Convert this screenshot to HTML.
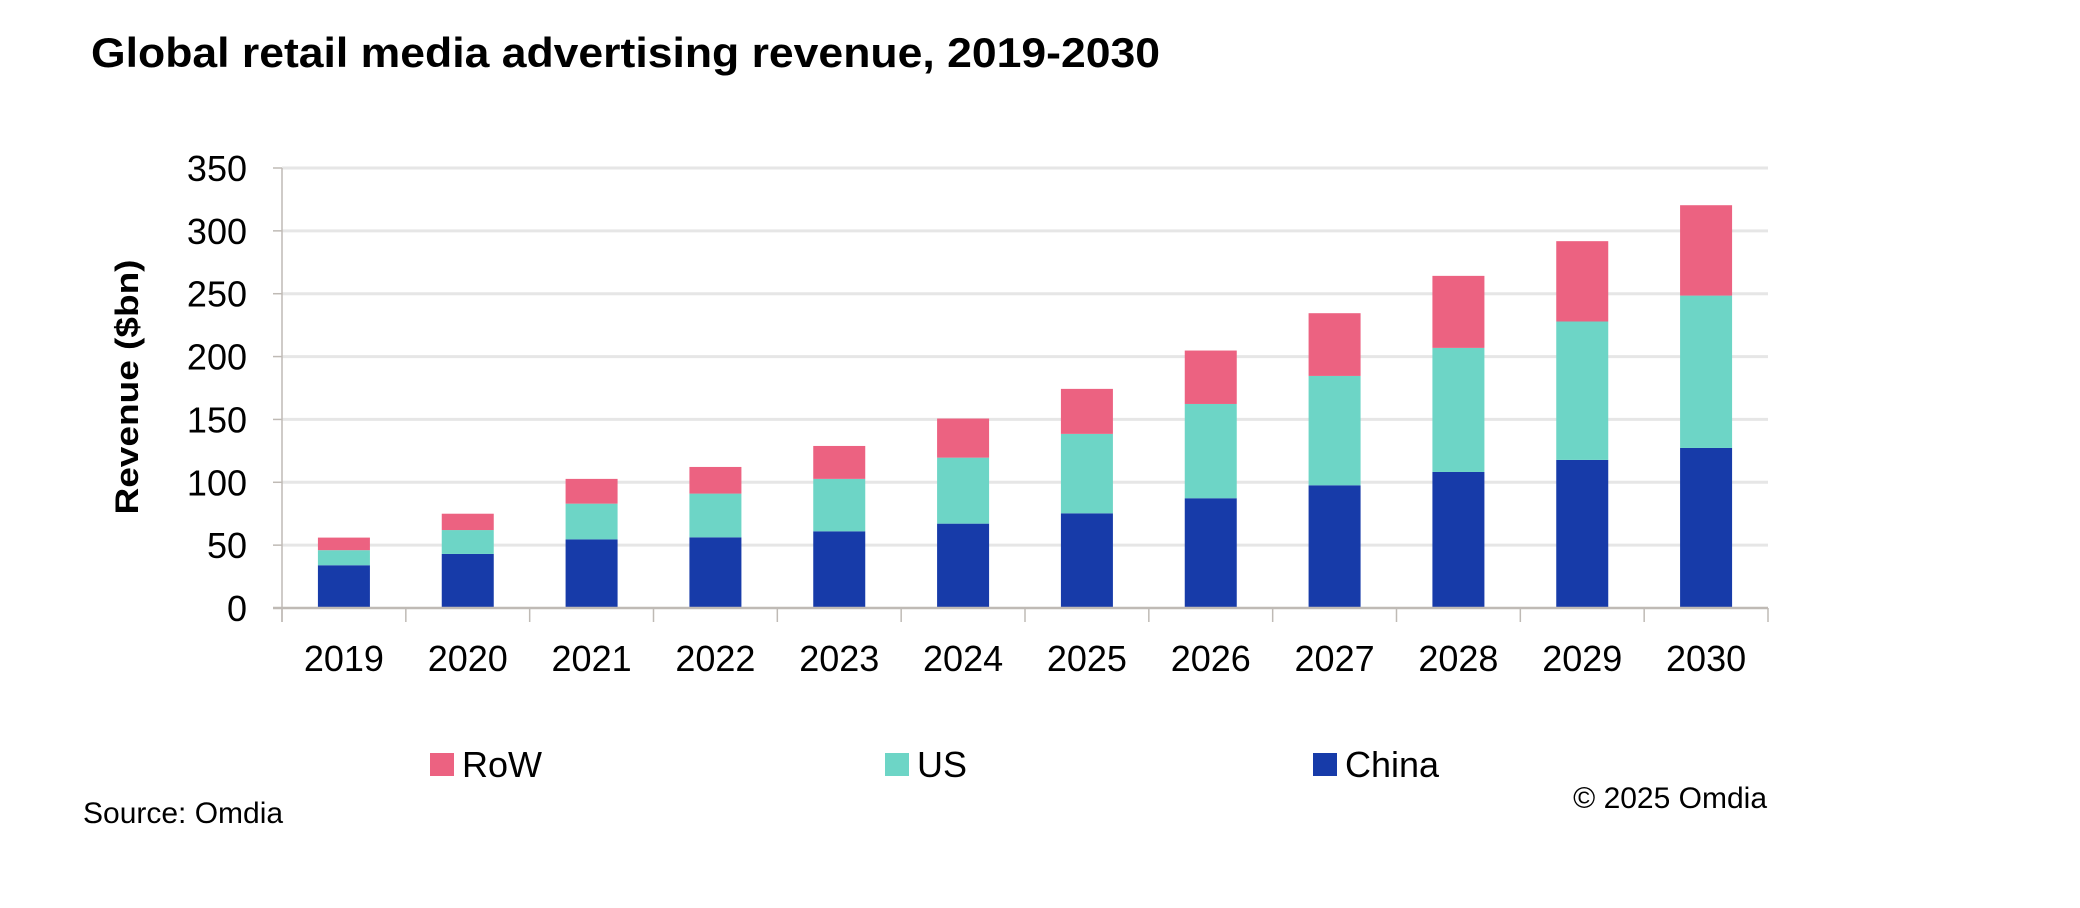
<!DOCTYPE html>
<html><head><meta charset="utf-8"><style>
html,body{margin:0;padding:0;background:#fff;}
svg{display:block;font-family:"Liberation Sans",sans-serif;}
</style></head><body>
<svg id="chart" width="2080" height="908" viewBox="0 0 2080 908">
<text x="91" y="67" font-size="42" font-weight="bold" textLength="1069" lengthAdjust="spacingAndGlyphs">Global retail media advertising revenue, 2019-2030</text>
<g id="grid"></g>
<g id="bars"></g>
<g id="axes"></g>
<text transform="translate(138,387) rotate(-90)" text-anchor="middle" font-size="32" font-weight="bold" textLength="255" lengthAdjust="spacingAndGlyphs">Revenue ($bn)</text>
<g>
<g><rect x="430" y="753" width="24" height="23" fill="#EC6281"/><text x="462" y="777" font-size="36">RoW</text></g>
<g><rect x="885" y="753" width="24" height="23" fill="#6DD5C6"/><text x="917" y="777" font-size="36">US</text></g>
<g><rect x="1313" y="753" width="24" height="23" fill="#173BA9"/><text x="1345" y="777" font-size="36">China</text></g>
</g>
<text x="83" y="823" font-size="30">Source: Omdia</text>
<text x="1767" y="808" font-size="30" text-anchor="end">© 2025 Omdia</text>
</svg>
<script>
const categories = ["2019","2020","2021","2022","2023","2024","2025","2026","2027","2028","2029","2030"];
const chinaValues = [34, 43, 54.6, 56.2, 61, 67.1, 75.3, 87.3, 97.6, 108.2, 117.8, 127.3];
const usValues = [12, 19, 28.4, 34.8, 41.7, 52.5, 63.2, 75, 87, 98.7, 110.1, 121.2];
const rowValues = [10, 13, 19.7, 21.2, 26.2, 31.1, 35.8, 42.5, 49.9, 57.3, 63.9, 71.9];
const yTicks = [0, 50, 100, 150, 200, 250, 300, 350];

const NS = "http://www.w3.org/2000/svg";
const X0 = 282, X1 = 1768, Y0 = 608, Y350 = 168;
const yScale = v => Y0 - (v / 350) * (Y0 - Y350);
const band = (X1 - X0) / categories.length;
const xCenter = i => X0 + band * (i + 0.5);
const BW = 52;
function mk(tag, attrs, parent) {
  const e = document.createElementNS(NS, tag);
  for (const k in attrs) e.setAttribute(k, attrs[k]);
  parent.appendChild(e);
  return e;
}
const grid = document.getElementById("grid");
const axes = document.getElementById("axes");
const bars = document.getElementById("bars");
yTicks.forEach(t => {
  const y = yScale(t);
  if (t > 0) {
    const l = mk("line", {x1: X0, x2: X1, y1: y, y2: y, stroke: "#e6e6e6", "stroke-width": 3}, grid);
    
    
  }
  const tk = mk("line", {x1: 273, x2: X0, y1: y, y2: y, stroke: "#bfbab5", "stroke-width": 1.5}, axes);
  
  
  const tx = mk("text", {x: 247, y: y + 13, "font-size": 36, "text-anchor": "end"}, axes);
  
  
  tx.textContent = t;
});
const series = [[chinaValues, "#173BA9", "china"], [usValues, "#6DD5C6", "us"], [rowValues, "#EC6281", "row"]];
categories.forEach((c, i) => {
  let base = 0;
  series.forEach(([vals, col, nm]) => {
    const top = base + vals[i];
    const r = mk("rect", {x: xCenter(i) - BW / 2, y: yScale(top), width: BW, height: yScale(base) - yScale(top), fill: col}, bars);
    
    
    base = top;
  });
  const lab = mk("text", {x: xCenter(i), y: 671, "font-size": 36, "text-anchor": "middle"}, axes);
  
  
  lab.textContent = c;
});
for (let i = 0; i <= categories.length; i++) {
  const x = X0 + band * i;
  const t = mk("line", {x1: x, x2: x, y1: Y0, y2: 622, stroke: "#bfbab5", "stroke-width": 1.5}, axes);
  
  
}
const ya = mk("line", {x1: X0, x2: X0, y1: Y350, y2: 622, stroke: "#bfbab5", "stroke-width": 1.5}, axes);


const xa = mk("line", {x1: 273, x2: X1, y1: Y0, y2: Y0, stroke: "#bfbab5", "stroke-width": 2.5}, axes);


</script>
</body></html>
